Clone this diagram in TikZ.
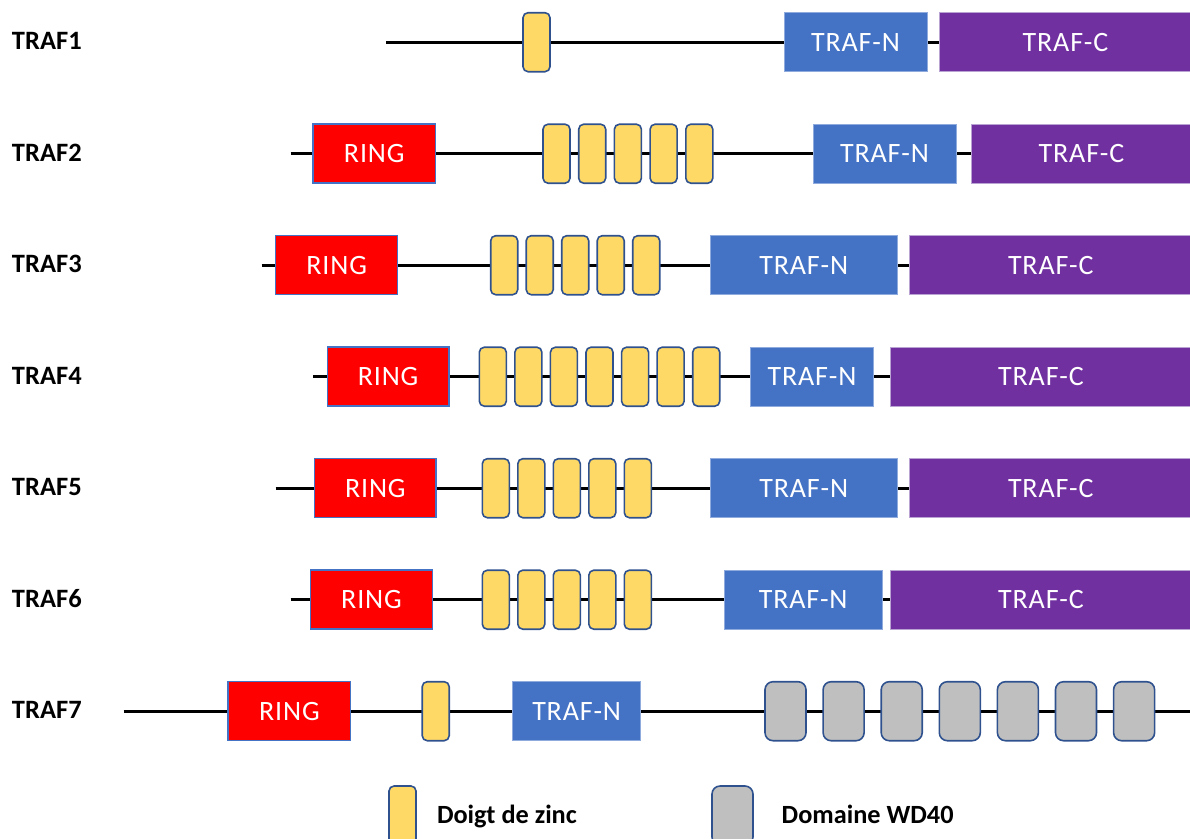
\documentclass[tikz,border=0pt]{standalone}
\usepackage{fontspec}
\setmainfont{Carlito}
\newfontfamily\boxfont[LetterSpace=3]{Carlito}
\usetikzlibrary{backgrounds}
\definecolor{ringred}{HTML}{FF0000}
\definecolor{ringedge}{HTML}{4472C4}
\definecolor{tnblue}{HTML}{4472C4}
\definecolor{tnedge}{HTML}{8FAADC}
\definecolor{tcpurple}{HTML}{7030A0}
\definecolor{tcedge}{HTML}{B9A3D3}
\definecolor{zfyellow}{HTML}{FFD966}
\definecolor{boxedge}{HTML}{2F528F}
\definecolor{wdgray}{HTML}{BFBFBF}
\newcommand\dombox[6]{\node[#2, minimum width={(#4-#3)*1pt}] (#1) at (#3,#5) {#6};}
\tikzset{
  every node/.style={inner sep=0pt, outer sep=0pt},
  domainbox/.style={minimum height=59pt, text=white, font=\boxfont\fontsize{28}{30}\selectfont, anchor=west},
  ringbox/.style={domainbox, fill=ringred, draw=ringedge, line width=1.5pt},
  tnbox/.style={domainbox, fill=tnblue, draw=tnedge, line width=1pt},
  tcbox/.style={domainbox, fill=tcpurple, draw=tcedge, line width=1pt},
  zfbox/.style={domainbox, fill=zfyellow, draw=boxedge, line width=1.6pt, rounded corners=5pt, minimum width=27pt},
  wdbox/.style={domainbox, fill=wdgray, draw=boxedge, line width=1.6pt, rounded corners=8pt, minimum width=41pt},
  rowlabel/.style={anchor=base west, font=\bfseries\fontsize{26.5}{28}\selectfont},
  legtext/.style={anchor=base west, font=\bfseries\fontsize{26.3}{28}\selectfont},
  backbone/.style={line width=3pt, black},
}
\begin{document}
\begin{tikzpicture}[x=1pt,y=-1pt]
\useasboundingbox (0,0) rectangle (1190,838);
\clip (0,0) rectangle (1190,838);
% row labels
\node[rowlabel] (l1) at (12,{42.2+7.3}) {TRAF1};
\node[rowlabel] (l2) at (12,{153.7+7.3}) {TRAF2};
\node[rowlabel] (l3) at (12,{265.2+7.3}) {TRAF3};
\node[rowlabel] (l4) at (12,{376.7+7.3}) {TRAF4};
\node[rowlabel] (l5) at (12,{488.2+7.3}) {TRAF5};
\node[rowlabel] (l6) at (12,{599.7+7.3}) {TRAF6};
\node[rowlabel] (l7) at (12,{711.2+7.3}) {TRAF7};
% TRAF1
\coordinate (s1) at (386,42.2);
\node[zfbox] (r1z0) at (523,42.2) {};
\dombox{r1tn}{tnbox}{784}{927}{42.2}{TRAF-N}
\dombox{r1tc}{tcbox}{939}{1192}{42.2}{TRAF-C}
% TRAF2
\coordinate (s2) at (290.7,153.7);
\dombox{r2ring}{ringbox}{313}{435.5}{153.7}{RING}
\foreach \i in {0,...,4} \node[zfbox] (r2z\i) at ({543+35.7*\i},153.7) {};
\dombox{r2tn}{tnbox}{813}{956}{153.7}{TRAF-N}
\dombox{r2tc}{tcbox}{971}{1192}{153.7}{TRAF-C}
% TRAF3
\coordinate (s3) at (261.7,265.2);
\dombox{r3ring}{ringbox}{275.7}{397.7}{265.2}{RING}
\foreach \i in {0,...,4} \node[zfbox] (r3z\i) at ({490.7+35.5*\i},265.2) {};
\dombox{r3tn}{tnbox}{710.3}{897.2}{265.2}{TRAF-N}
\dombox{r3tc}{tcbox}{909.6}{1192}{265.2}{TRAF-C}
% TRAF4
\coordinate (s4) at (313.3,376.7);
\dombox{r4ring}{ringbox}{327.3}{449}{376.7}{RING}
\foreach \i in {0,...,6} \node[zfbox] (r4z\i) at ({479.3+35.57*\i},376.7) {};
\dombox{r4tn}{tnbox}{750.5}{873.5}{376.7}{TRAF-N}
\dombox{r4tc}{tcbox}{890}{1192}{376.7}{TRAF-C}
% TRAF5
\coordinate (s5) at (275.7,488.2);
\dombox{r5ring}{ringbox}{314.7}{436}{488.2}{RING}
\foreach \i in {0,...,4} \node[zfbox] (r5z\i) at ({482.3+35.5*\i},488.2) {};
\dombox{r5tn}{tnbox}{710.3}{897.2}{488.2}{TRAF-N}
\dombox{r5tc}{tcbox}{909.6}{1192}{488.2}{TRAF-C}
% TRAF6
\coordinate (s6) at (290.7,599.7);
\dombox{r6ring}{ringbox}{310.3}{432.7}{599.7}{RING}
\foreach \i in {0,...,4} \node[zfbox] (r6z\i) at ({482.3+35.5*\i},599.7) {};
\dombox{r6tn}{tnbox}{724.4}{882}{599.7}{TRAF-N}
\dombox{r6tc}{tcbox}{890}{1192}{599.7}{TRAF-C}
% TRAF7
\coordinate (s7) at (123.7,711.2);
\coordinate (e7) at (1192,711.2);
\dombox{r7ring}{ringbox}{228.2}{350.7}{711.2}{RING}
\node[zfbox] (r7z0) at (422.2,711.2) {};
\dombox{r7tn}{tnbox}{512.5}{640.8}{711.2}{TRAF-N}
\foreach \i in {0,...,6} \node[wdbox] (r7w\i) at ({765+58.1*\i},711.2) {};
% legend
\node[zfbox] (legz) at (389,815.5) {};
\node[legtext] (legzt) at (437,823.3) {Doigt de zinc};
\node[wdbox] (legw) at (712,815.5) {};
\node[legtext] (legwt) at (781.7,823.3) {Domaine WD40};
% backbones
\begin{scope}[on background layer]
\draw[backbone] (s1) -- (r1z0) -- (r1tn) -- (r1tc);
\draw[backbone] (s2) -- (r2ring) -- (r2z0) -- (r2z4) -- (r2tn) -- (r2tc);
\draw[backbone] (s3) -- (r3ring) -- (r3z0) -- (r3z4) -- (r3tn) -- (r3tc);
\draw[backbone] (s4) -- (r4ring) -- (r4z0) -- (r4z6) -- (r4tn) -- (r4tc);
\draw[backbone] (s5) -- (r5ring) -- (r5z0) -- (r5z4) -- (r5tn) -- (r5tc);
\draw[backbone] (s6) -- (r6ring) -- (r6z0) -- (r6z4) -- (r6tn) -- (r6tc);
\draw[backbone] (s7) -- (r7ring) -- (r7z0) -- (r7tn) -- (r7w0) -- (r7w6) -- (e7);
\end{scope}
\end{tikzpicture}
\end{document}
